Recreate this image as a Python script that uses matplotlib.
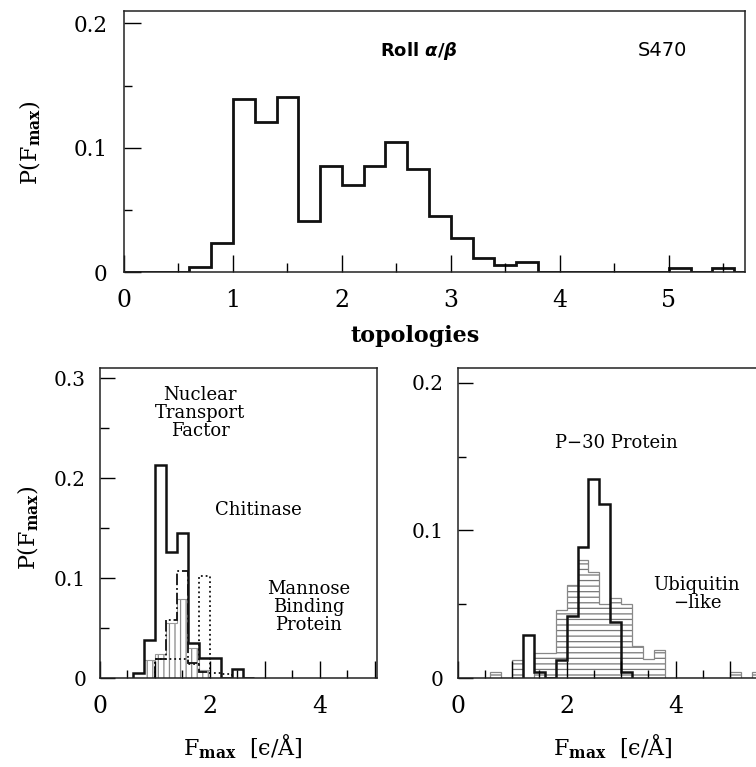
import numpy as np
import matplotlib
matplotlib.use("Agg")
import matplotlib.pyplot as plt

plt.rcParams['font.family'] = ['DejaVu Serif', 'DejaVu Sans']
plt.rcParams['mathtext.fontset'] = 'dejavuserif'
plt.rcParams['hatch.linewidth'] = 0.9

# ---------------- data ----------------
bin_width = 0.2

# top panel: Roll alpha/beta, S470 (bins start at 0.0)
top_start = 0.0
top_vals = [0, 0, 0, 0.004, 0.023, 0.139, 0.121, 0.141, 0.041, 0.085,
            0.070, 0.085, 0.105, 0.083, 0.045, 0.027, 0.011, 0.006, 0.008, 0,
            0, 0, 0, 0, 0, 0.003, 0, 0.003, 0]

# bottom-left panel
ntf_start = 0.6      # solid thick
ntf_vals = [0.005, 0.038, 0.213, 0.126, 0.145, 0.035, 0.020, 0.020, 0, 0.009, 0]
chit_start = 1.0     # dash-dot
chit_vals = [0.019, 0.058, 0.107, 0.015, 0.006]
mbp_start = 1.0      # dotted
mbp_vals = [0.019, 0.019, 0.019, 0.014, 0.102, 0.005, 0.004]
vh_start = 0.8       # gray vertical hatch
vh_vals = [0.018, 0.024, 0.055, 0.079, 0.030, 0.008]

# bottom-right panel
p30_start = 1.2      # solid thick
p30_vals = [0.029, 0.004, 0, 0.0125, 0.042, 0.089, 0.135, 0.118, 0.038, 0.004]
ubq_start = 0.6      # gray horizontal hatch
ubq_vals = [0.004, 0, 0.0125, 0, 0.017, 0.017, 0.046, 0.063, 0.080, 0.072,
            0.050, 0.0545, 0.050, 0.0217, 0.013, 0.0187, 0, 0, 0, 0, 0, 0,
            0.004, 0, 0.004]


def edges(start, vals):
    return start + bin_width * np.arange(len(vals) + 1)


# ---------------- figure ----------------
W, H = 756, 767
fig = plt.figure(figsize=(W / 100, H / 100), dpi=100)


def axes_px(left, top, right, bottom):
    return fig.add_axes([left / W, 1 - bottom / H, (right - left) / W, (bottom - top) / H])


def style(ax, xmaj, xlabels, xmin, ymaj, ylabels, ymin, xfs, yfs, xpad, ypad,
          majlen, minlen, ymajlen, yminlen):
    for s in ax.spines.values():
        s.set_linewidth(1.1)
        s.set_color('#222')
    ax.set_xticks(xmaj)
    ax.set_xticklabels(xlabels)
    ax.set_xticks(xmin, minor=True)
    ax.set_yticks(ymaj)
    ax.set_yticklabels(ylabels)
    ax.set_yticks(ymin, minor=True)
    ax.tick_params(axis='x', which='major', direction='in', length=majlen, width=1.0,
                   labelsize=xfs, pad=xpad, top=False)
    ax.tick_params(axis='x', which='minor', direction='in', length=minlen, width=1.0, top=False)
    ax.tick_params(axis='y', which='major', direction='in', length=ymajlen, width=1.0,
                   labelsize=yfs, pad=ypad, right=False)
    ax.tick_params(axis='y', which='minor', direction='in', length=yminlen, width=1.0, right=False)


# ---- top panel ----
ax = axes_px(124, 11, 745, 272)
ax.stairs(top_vals, edges(top_start, top_vals), color='#111', linewidth=2.0, baseline=None)
ax.set_xlim(0, 5.7)
ax.set_ylim(0, 0.21)
style(ax, [0, 1, 2, 3, 4, 5], ['0', '1', '2', '3', '4', '5'],
      [0.5, 1.5, 2.5, 3.5, 4.5, 5.5],
      [0, 0.1, 0.2], ['0', '0.1', '0.2'], [0.05, 0.15],
      17, 15.5, 12.5, 12, 12.5, 6.5, 12.5, 6)
ax.text(2.71, 0.178, r'Roll $\boldsymbol{\alpha/\beta}$', fontsize=13, ha='center', va='center',
        fontfamily='DejaVu Sans', fontweight='bold', math_fontfamily='dejavusans')
ax.text(4.94, 0.178, 'S470', fontsize=14, ha='center', va='center', fontfamily='DejaVu Sans')
fig.text(30 / W, 1 - 143 / H, r'P(F$_{\mathbf{max}}$)', rotation=90, fontsize=16,
         ha='center', va='center')
fig.text(415 / W, 1 - 342 / H, 'topologies', fontsize=16, fontweight='bold',
         ha='center', va='baseline')

# ---- bottom-left panel ----
ax = axes_px(100, 368, 377, 678)
ax.bar(edges(vh_start, vh_vals)[:-1], vh_vals, width=bin_width, align='edge', fill=False,
       hatch='|||', edgecolor='#888', linewidth=0)
ax.stairs(vh_vals, edges(vh_start, vh_vals), color='#999', linewidth=0.8, baseline=None)
ax.stairs(mbp_vals, edges(mbp_start, mbp_vals), color='#111', linewidth=1.3, linestyle=':', baseline=0)
ax.stairs(chit_vals, edges(chit_start, chit_vals), color='#111', linewidth=1.3, linestyle='-.', baseline=0)
ax.stairs(ntf_vals, edges(ntf_start, ntf_vals), color='#111', linewidth=1.8, baseline=0)
ax.set_xlim(0, 5.04)
ax.set_ylim(0, 0.31)
style(ax, [0, 1, 2, 3, 4, 5], ['0', '', '2', '', '4', ''],
      [0.5, 1.5, 2.5, 3.5, 4.5],
      [0, 0.1, 0.2, 0.3], ['0', '0.1', '0.2', '0.3'], [0.05, 0.15, 0.25],
      17, 14.5, 12, 10, 12, 6, 11, 6.5)
ax.text(1.82, 0.265, 'Nuclear\nTransport\nFactor', fontsize=13, ha='center', va='center',
        linespacing=1.0)
ax.text(2.89, 0.168, 'Chitinase', fontsize=13, ha='center', va='center')
ax.text(3.79, 0.071, 'Mannose\nBinding\nProtein', fontsize=13, ha='center', va='center',
        linespacing=1.0)
fig.text(28 / W, 1 - 528 / H, r'P(F$_{\mathbf{max}}$)', rotation=90, fontsize=16,
         ha='center', va='center')
fig.text(243 / W, 1 - 755 / H, 'F$_{\\mathbf{max}}$  [\u03f5/Å]', fontsize=16,
         ha='center', va='baseline')

# ---- bottom-right panel ----
ax = axes_px(457.7, 368, 768.3, 678)
ax.bar(edges(ubq_start, ubq_vals)[:-1], ubq_vals, width=bin_width, align='edge', fill=False,
       hatch='---', edgecolor='#777', linewidth=0)
ax.stairs(ubq_vals, edges(ubq_start, ubq_vals), color='#888', linewidth=0.9, baseline=0)
ax.stairs(p30_vals, edges(p30_start, p30_vals), color='#111', linewidth=1.8, baseline=0)
ax.set_xlim(0, 5.7)
ax.set_ylim(0, 0.21)
style(ax, [0, 1, 2, 3, 4, 5], ['0', '', '2', '', '4', ''],
      [0.5, 1.5, 2.5, 3.5, 4.5, 5.5],
      [0, 0.1, 0.2], ['0', '0.1', '0.2'], [0.05, 0.15],
      17, 14.5, 12, 10, 12, 6, 10.5, 5.5)
ax.text(2.91, 0.159, 'P\u221230 Protein', fontsize=13, ha='center', va='center')
ax.text(4.39, 0.057, 'Ubiquitin\n\u2212like', fontsize=13, ha='center', va='center',
        linespacing=1.0)
fig.text(612.5 / W, 1 - 755 / H, 'F$_{\\mathbf{max}}$  [\u03f5/Å]', fontsize=16,
         ha='center', va='baseline')

fig.savefig('out.png', dpi=100)
